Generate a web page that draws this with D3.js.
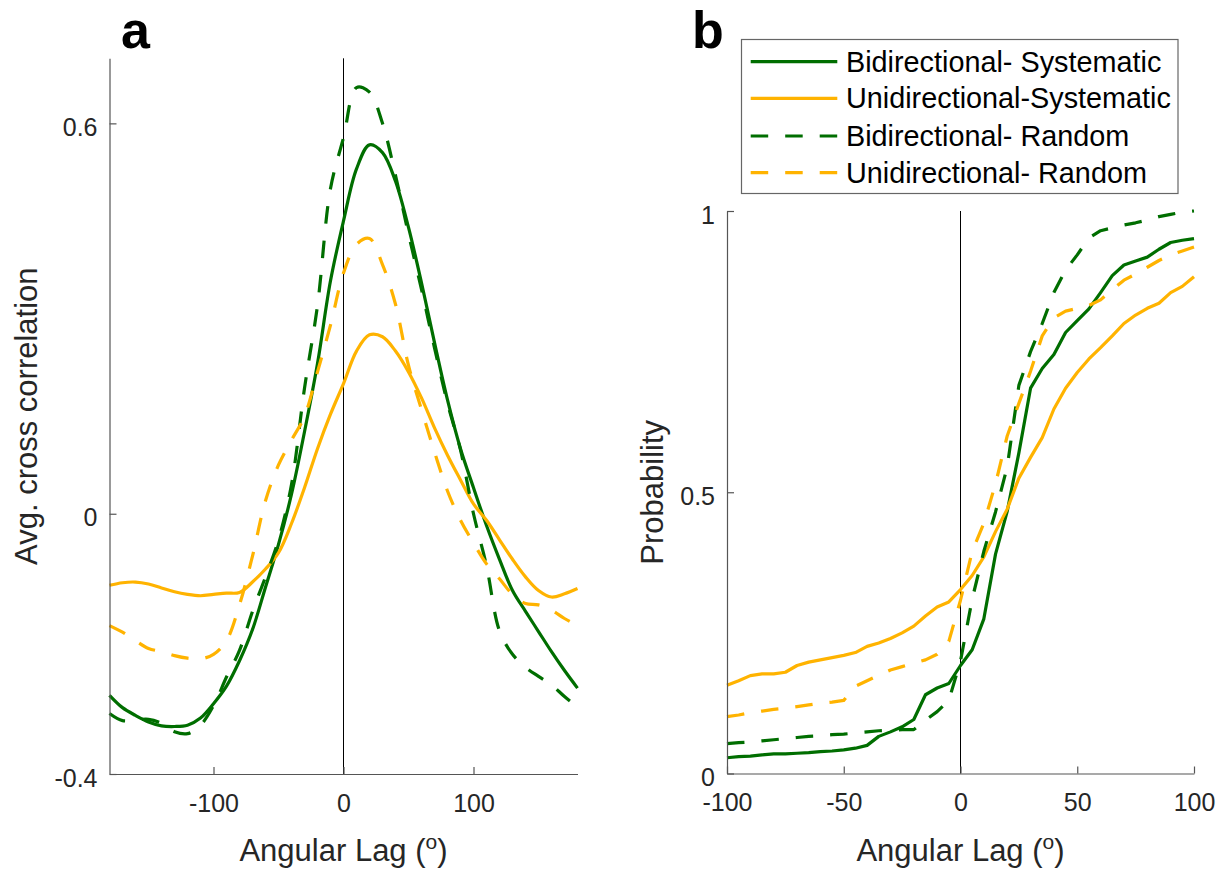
<!DOCTYPE html>
<html>
<head>
<meta charset="utf-8">
<script src="https://cdn.jsdelivr.net/npm/d3@7"></script>
<style>
  html, body { margin: 0; padding: 0; background: #fff; }
  svg { display: block; }
  text { font-family: "Liberation Sans", Arial, Helvetica, sans-serif; }
</style>
</head>
<body>
<svg id="chart" width="1225" height="869"></svg>
<script>
// ---------------- DATA ----------------
// Panel a: angular lag (degrees) vs average cross correlation
const lagA = [-180,-170,-160,-150,-140,-130,-120,-110,-100,-90,-80,-70,-60,-50,-40,-30,-20,-10,0,10,20,30,40,50,60,70,80,90,100,110,120,130,140,150,160,170,180];
const aBidirSystematic = [-0.279,-0.298,-0.310,-0.320,-0.326,-0.327,-0.325,-0.314,-0.292,-0.265,-0.226,-0.178,-0.113,-0.047,0.030,0.126,0.231,0.358,0.450,0.530,0.567,0.555,0.511,0.440,0.355,0.263,0.175,0.100,0.040,-0.018,-0.070,-0.118,-0.150,-0.181,-0.212,-0.241,-0.268];
const aUnidirSystematic = [-0.110,-0.106,-0.105,-0.108,-0.114,-0.120,-0.124,-0.126,-0.124,-0.122,-0.121,-0.105,-0.085,-0.060,-0.015,0.040,0.100,0.153,0.200,0.250,0.275,0.272,0.250,0.218,0.178,0.132,0.090,0.052,0.015,-0.010,-0.040,-0.070,-0.097,-0.118,-0.128,-0.123,-0.115];
const aBidirRandom = [-0.307,-0.318,-0.317,-0.316,-0.322,-0.335,-0.338,-0.325,-0.295,-0.251,-0.210,-0.150,-0.097,-0.040,0.045,0.193,0.320,0.500,0.578,0.655,0.648,0.600,0.520,0.430,0.345,0.255,0.170,0.098,0.000,-0.080,-0.180,-0.216,-0.236,-0.250,-0.263,-0.281,-0.297];
const aUnidirRandom = [-0.172,-0.182,-0.195,-0.207,-0.212,-0.218,-0.222,-0.223,-0.216,-0.195,-0.140,-0.065,0.020,0.075,0.113,0.150,0.218,0.290,0.370,0.414,0.423,0.383,0.322,0.228,0.160,0.095,0.035,-0.010,-0.045,-0.077,-0.100,-0.124,-0.138,-0.140,-0.148,-0.161,-0.172];

// Panel b: angular lag (degrees) vs cumulative probability
const lagB = [-100,-95,-90,-85,-80,-75,-70,-65,-60,-55,-50,-45,-40,-35,-30,-25,-20,-15,-10,-5,0,5,10,15,20,25,30,35,40,45,50,55,60,65,70,75,80,85,90,95,100];
const bBidirSystematic = [0.028,0.030,0.031,0.033,0.035,0.035,0.036,0.037,0.039,0.040,0.042,0.045,0.050,0.066,0.074,0.083,0.096,0.140,0.152,0.160,0.192,0.220,0.275,0.390,0.466,0.570,0.685,0.720,0.745,0.784,0.805,0.826,0.855,0.885,0.904,0.911,0.918,0.932,0.944,0.948,0.951];
const bUnidirSystematic = [0.157,0.165,0.174,0.177,0.177,0.180,0.192,0.198,0.202,0.206,0.210,0.215,0.226,0.232,0.240,0.250,0.262,0.280,0.296,0.305,0.327,0.352,0.385,0.430,0.470,0.525,0.562,0.597,0.648,0.685,0.713,0.737,0.757,0.778,0.800,0.815,0.827,0.836,0.855,0.866,0.883];
const bBidirRandom = [0.053,0.055,0.056,0.058,0.060,0.062,0.064,0.066,0.067,0.069,0.070,0.072,0.074,0.076,0.077,0.078,0.078,0.095,0.110,0.130,0.200,0.310,0.395,0.465,0.545,0.690,0.750,0.800,0.855,0.895,0.922,0.952,0.965,0.970,0.975,0.979,0.984,0.990,0.994,0.998,1.000];
const bUnidirRandom = [0.101,0.104,0.108,0.111,0.114,0.116,0.119,0.122,0.125,0.127,0.130,0.155,0.165,0.175,0.184,0.190,0.196,0.202,0.212,0.235,0.308,0.395,0.445,0.515,0.600,0.658,0.715,0.778,0.810,0.822,0.827,0.832,0.842,0.860,0.877,0.888,0.900,0.912,0.922,0.929,0.936];

const seriesNames = ["Bidirectional- Systematic","Unidirectional-Systematic","Bidirectional- Random","Unidirectional- Random"];
const ticksAx = [-100, 0, 100];
const ticksAy = [0.6, 0, -0.4];
const ticksBx = [-100, -50, 0, 50, 100];
const ticksBy = [0, 0.5, 1];

// ---------------- STYLE ----------------
const GREEN = "#006e00", ORANGE = "#ffb300";
const styles = [
  {color: GREEN, dash: null},
  {color: ORANGE, dash: null},
  {color: GREEN, dash: "17.5,17"},
  {color: ORANGE, dash: "17.5,17"}
];
const AXIS_COL = "#555", TEXT_COL = "#262626";

const svg = d3.select("#chart");

function fmt(d) { return String(d); }

function drawPanel(opt) {
  const {x, y, xt, yt, lags, series, curve, letter, letterX, ylabel, ylabelX} = opt;
  const g = svg.append("g");
  const [x0, x1] = x.range();
  const [y0, y1] = y.range();

  // zero line
  g.append("line").attr("x1", x(0)).attr("x2", x(0)).attr("y1", y0).attr("y2", y1)
    .attr("stroke", "#000").attr("stroke-width", 1);

  // lines
  const line = d3.line().x((d) => x(d[0])).y((d) => y(d[1])).curve(curve);
  series.forEach((vals, i) => {
    const pts = lags.map((l, j) => [l, vals[j]]);
    g.append("path").datum(pts).attr("d", line)
      .attr("fill", "none").attr("stroke", styles[i].color)
      .attr("stroke-width", 3.2).attr("stroke-linejoin", "round")
      .attr("stroke-dasharray", styles[i].dash);
  });

  // axes
  const ax = g.append("g").attr("transform", `translate(0,${y0})`)
    .call(d3.axisBottom(x).tickValues(xt).tickFormat(fmt).tickSizeInner(-7).tickSizeOuter(0).tickPadding(20));
  const ay = g.append("g").attr("transform", `translate(${x0},0)`)
    .call(d3.axisLeft(y).tickValues(yt).tickFormat(fmt).tickSizeInner(-7).tickSizeOuter(0).tickPadding(12));
  [ax, ay].forEach(a => {
    a.select(".domain").attr("stroke", AXIS_COL).attr("stroke-width", 1.2);
    a.selectAll(".tick line").attr("stroke", AXIS_COL).attr("stroke-width", 1.2);
    a.selectAll(".tick text").attr("fill", TEXT_COL).attr("font-size", 25)
      .style("font-family", '"Liberation Sans", Arial, Helvetica, sans-serif');
  });
  ay.selectAll(".tick text").attr("dy", "0.48em");

  // x label with superscript
  const xl = g.append("text").attr("x", x(0)).attr("y", 861)
    .attr("text-anchor", "middle").attr("font-size", 31).attr("fill", TEXT_COL);
  xl.append("tspan").text("Angular Lag (");
  xl.append("tspan").attr("font-size", 21).attr("dy", -12).text("o");
  xl.append("tspan").attr("dy", 12).text(")");

  // y label
  g.append("text").attr("transform", `translate(${ylabelX},${(y0 + y1) / 2}) rotate(-90)`)
    .attr("text-anchor", "middle").attr("font-size", 31).attr("fill", TEXT_COL).text(ylabel);

  // panel letter
  svg.append("text").attr("x", letterX).attr("y", 48).attr("font-size", 52)
    .attr("font-weight", "bold").attr("fill", "#000").text(letter);
}

const xA = d3.scaleLinear().domain([-180, 180]).range([109.5, 577.5]);
const yA = d3.scaleLinear().domain([-0.4, 0.7]).range([774, 58.3]);
drawPanel({x: xA, y: yA, xt: ticksAx, yt: ticksAy, lags: lagA,
  series: [aBidirSystematic, aUnidirSystematic, aBidirRandom, aUnidirRandom],
  curve: d3.curveCatmullRom.alpha(0.5), letter: "a", letterX: 121,
  ylabel: "Avg. cross correlation", ylabelX: 37});

const xB = d3.scaleLinear().domain([-100, 100]).range([727, 1194]);
const yB = d3.scaleLinear().domain([0, 1]).range([773.5, 211]);
drawPanel({x: xB, y: yB, xt: ticksBx, yt: ticksBy, lags: lagB,
  series: [bBidirSystematic, bUnidirSystematic, bBidirRandom, bUnidirRandom],
  curve: d3.curveLinear, letter: "b", letterX: 692,
  ylabel: "Probability", ylabelX: 663});

// legend
const lg = svg.append("g");
lg.append("rect").attr("x", 741.5).attr("y", 39.5).attr("width", 436.5).attr("height", 154)
  .attr("fill", "#fff").attr("stroke", "#666").attr("stroke-width", 1.2);
const rowY = [61.7, 98.3, 136, 172.7];
seriesNames.forEach((name, i) => {
  lg.append("line").attr("x1", 750.7).attr("x2", 837.3).attr("y1", rowY[i]).attr("y2", rowY[i])
    .attr("stroke", styles[i].color).attr("stroke-width", 3.2)
    .attr("stroke-dasharray", styles[i].dash);
  lg.append("text").attr("x", 846).attr("y", rowY[i] + 10).attr("font-size", 28.8)
    .attr("fill", "#000").text(name);
});
</script>
</body>
</html>
